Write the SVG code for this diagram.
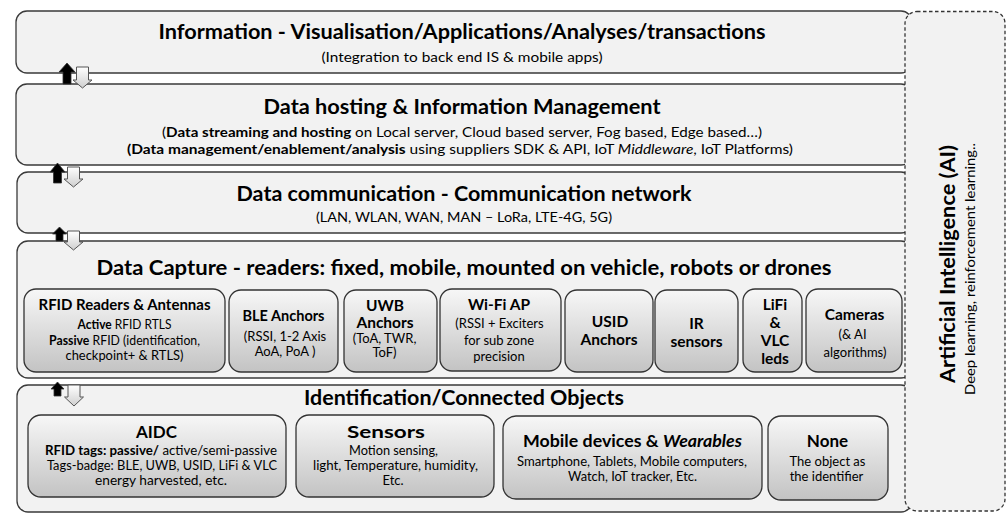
<svg xmlns="http://www.w3.org/2000/svg" width="1006" height="513" viewBox="0 0 1006 513">
<defs>
<linearGradient id="boxGrad" x1="0" y1="0" x2="0" y2="1">
<stop offset="0" stop-color="#f7f7f7"/>
<stop offset="1" stop-color="#c3c3c3"/>
</linearGradient>
<linearGradient id="arrGrad" x1="0" y1="0" x2="0" y2="1">
<stop offset="0" stop-color="#ffffff"/>
<stop offset="1" stop-color="#cfcfcf"/>
</linearGradient>
</defs>
<style>
.layer{fill:#f2f2f2;stroke:#3a3a3a;stroke-width:1.3}
.box{fill:url(#boxGrad);stroke:#333;stroke-width:1.3}
.ai{fill:#f2f2f2;stroke:#333;stroke-width:1.3;stroke-dasharray:3.5 2.5}
.up{fill:#000;stroke:#333;stroke-width:0.8}
.down{fill:url(#arrGrad);stroke:#555;stroke-width:1}
text{font-family:Lato,"Liberation Sans",sans-serif;fill:#000;text-anchor:middle}
.lt{font-size:20px;font-weight:bold}
.ls{font-size:14px}
.bt{font-size:15.5px;font-weight:bold}
.bb{font-size:13px}
.b{font-weight:bold}
.i{font-style:italic}
</style>
<rect width="1006" height="513" fill="#fff"/>

<g id="layer-information">
<rect class="layer" x="16" y="11" width="896" height="62" rx="11"/>
<text class="lt" x="462" y="39" textLength="607" lengthAdjust="spacingAndGlyphs">Information - Visualisation/Applications/Analyses/transactions</text>
<text class="ls" x="462" y="62" textLength="281" lengthAdjust="spacingAndGlyphs">(Integration to back end IS &amp;  mobile apps)</text>
</g>

<g id="layer-hosting">
<rect class="layer" x="16" y="84" width="896" height="81" rx="11"/>
<text class="lt" x="462" y="114" textLength="397" lengthAdjust="spacingAndGlyphs">Data hosting &amp; Information Management</text>
<text class="ls" x="462" y="137" textLength="600" lengthAdjust="spacingAndGlyphs">(<tspan class="b">Data streaming and hosting</tspan> on Local server, Cloud based server, Fog based, Edge based…)</text>
<text class="ls" x="460" y="154" textLength="666" lengthAdjust="spacingAndGlyphs"><tspan class="b">(Data management/enablement/analysis</tspan> using suppliers SDK &amp; API, IoT <tspan class="i">Middleware</tspan>, IoT Platforms)</text>
</g>

<g id="layer-communication">
<rect class="layer" x="17" y="172" width="895" height="61" rx="11"/>
<text class="lt" x="464" y="201" textLength="455" lengthAdjust="spacingAndGlyphs">Data communication - Communication network</text>
<text class="ls" x="464" y="222" textLength="296" lengthAdjust="spacingAndGlyphs">(LAN, WLAN, WAN, MAN – LoRa, LTE-4G, 5G)</text>
</g>

<g id="layer-capture">
<rect class="layer" x="17" y="241" width="895" height="137" rx="11"/>
<text class="lt" x="464" y="275" textLength="735" lengthAdjust="spacingAndGlyphs">Data Capture  - readers: fixed, mobile, mounted on vehicle, robots or drones</text>
</g>

<g id="box-rfid">
<rect class="box" x="24" y="289" width="201" height="83" rx="12"/>
<text class="bt" x="124.5" y="310" textLength="172" lengthAdjust="spacingAndGlyphs">RFID Readers &amp; Antennas</text>
<text class="bb" x="124.5" y="329" textLength="94" lengthAdjust="spacingAndGlyphs"><tspan class="b">Active</tspan> RFID RTLS</text>
<text class="bb" x="124.5" y="345" textLength="151" lengthAdjust="spacingAndGlyphs"><tspan class="b">Passive</tspan> RFID (identification,</text>
<text class="bb" x="124.5" y="360" textLength="118" lengthAdjust="spacingAndGlyphs">checkpoint+ &amp;  RTLS)</text>
</g>
<g id="box-ble">
<rect class="box" x="229" y="290" width="109" height="82" rx="12"/>
<text class="bt" x="283.5" y="321" textLength="82" lengthAdjust="spacingAndGlyphs">BLE Anchors</text>
<text class="bb" x="285" y="341">(RSSI, 1-2 Axis</text>
<text class="bb" x="285" y="356">AoA, PoA )</text>
</g>
<g id="box-uwb">
<rect class="box" x="344" y="290" width="93" height="82" rx="12"/>
<text class="bt" x="385" y="311">UWB</text>
<text class="bt" x="385" y="328">Anchors</text>
<text class="bb" x="384.5" y="343">(ToA, TWR,</text>
<text class="bb" x="384.5" y="357">ToF)</text>
</g>
<g id="box-wifi">
<rect class="box" x="440" y="289" width="121" height="82" rx="12"/>
<text class="bt" x="499" y="310">Wi-Fi AP</text>
<text class="bb" x="499.5" y="328">(RSSI + Exciters</text>
<text class="bb" x="499" y="345">for sub zone</text>
<text class="bb" x="499" y="361">precision</text>
</g>
<g id="box-usid">
<rect class="box" x="565" y="290" width="88" height="82" rx="12"/>
<text class="bt" x="610" y="327">USID</text>
<text class="bt" x="609" y="345">Anchors</text>
</g>
<g id="box-ir">
<rect class="box" x="655" y="290" width="83" height="82" rx="12"/>
<text class="bt" x="696.5" y="329">IR</text>
<text class="bt" x="696.5" y="347">sensors</text>
</g>
<g id="box-lifi">
<rect class="box" x="743" y="289" width="59" height="83" rx="12"/>
<text class="bt" x="775" y="310">LiFi</text>
<text class="bt" x="775" y="328">&amp;</text>
<text class="bt" x="775" y="346">VLC</text>
<text class="bt" x="775" y="364">leds</text>
</g>
<g id="box-cameras">
<rect class="box" x="806" y="289" width="96" height="83" rx="12"/>
<text class="bt" x="854.5" y="320">Cameras</text>
<text class="bb" x="852.5" y="339">(&amp; AI</text>
<text class="bb" x="855" y="357">algorithms)</text>
</g>

<g id="layer-identification">
<rect class="layer" x="17" y="385" width="895" height="127" rx="11"/>
<text class="lt" x="464" y="405" textLength="320" lengthAdjust="spacingAndGlyphs">Identification/Connected Objects</text>
</g>

<g id="box-aidc">
<rect class="box" x="28" y="415" width="258" height="82" rx="13"/>
<text class="bt" x="156.5" y="438" style="font-size:17px">AIDC</text>
<text class="bb" x="161" y="455" textLength="232" lengthAdjust="spacingAndGlyphs"><tspan class="b">RFID tags: passive/</tspan> active/semi-passive</text>
<text class="bb" x="162" y="470" textLength="230" lengthAdjust="spacingAndGlyphs">Tags-badge: BLE, UWB, USID, LiFi &amp; VLC</text>
<text class="bb" x="161" y="485" textLength="132" lengthAdjust="spacingAndGlyphs">energy harvested, etc.</text>
</g>
<g id="box-sensors">
<rect class="box" x="296" y="415" width="198" height="82" rx="13"/>
<text class="bt" x="386" y="438" style="font-size:17px" textLength="78" lengthAdjust="spacingAndGlyphs">Sensors</text>
<text class="bb" x="393.5" y="455" textLength="89" lengthAdjust="spacingAndGlyphs">Motion sensing,</text>
<text class="bb" x="395.5" y="470" textLength="165" lengthAdjust="spacingAndGlyphs">light, Temperature, humidity,</text>
<text class="bb" x="393" y="485">Etc.</text>
</g>
<g id="box-mobile">
<rect class="box" x="503" y="416" width="259" height="83" rx="13"/>
<text class="bt" x="632.5" y="447" style="font-size:17px" textLength="219" lengthAdjust="spacingAndGlyphs">Mobile devices &amp; <tspan class="i">Wearables</tspan></text>
<text class="bb" x="632" y="466" textLength="230" lengthAdjust="spacingAndGlyphs">Smartphone, Tablets, Mobile computers,</text>
<text class="bb" x="632.5" y="481" textLength="129" lengthAdjust="spacingAndGlyphs">Watch, IoT tracker, Etc.</text>
</g>
<g id="box-none">
<rect class="box" x="768" y="416" width="120" height="84" rx="13"/>
<text class="bt" x="827.5" y="447" style="font-size:17px">None</text>
<text class="bb" x="827.5" y="466">The object as</text>
<text class="bb" x="826.5" y="481">the identifier</text>
</g>

<g id="ai">
<rect class="ai" x="905" y="11.5" width="100" height="499.5" rx="12"/>
<text transform="translate(955,264) rotate(-90)" style="font-size:21px;font-weight:bold" textLength="238" lengthAdjust="spacingAndGlyphs">Artificial Intelligence (AI)</text>
<text transform="translate(975,269) rotate(-90)" style="font-size:13px" textLength="252" lengthAdjust="spacingAndGlyphs">Deep learning, reinforcement learning..</text>
</g>

<g id="connectors">
<polygon class="up" points="67,63 75,72 71,72 71,84 63,84 63,72 59,72"/>
<polygon class="down" points="76.5,67 88.5,67 88.5,80 92,80 82.5,88 73,80 76.5,80"/>
<polygon class="up" points="57.5,163 65,172 61.5,172 61.5,183 53.5,183 53.5,172 50,172"/>
<polygon class="down" points="67.5,167 79.5,167 79.5,179 83,179 73.5,187 64,179 67.5,179"/>
<polygon class="up" points="59.5,227 66.5,234 63,234 63,241 56,241 56,234 52.5,234"/>
<polygon class="down" points="67.5,231 79.5,231 79.5,242 83,242 73.5,250 64,242 67.5,242"/>
<polygon class="up" points="57.5,382 64,389 61,389 61,396 54,396 54,389 51,389"/>
<polygon class="down" points="68,385 80,385 80,397 83.5,397 74,406 64.5,397 68,397"/>
</g>
</svg>
